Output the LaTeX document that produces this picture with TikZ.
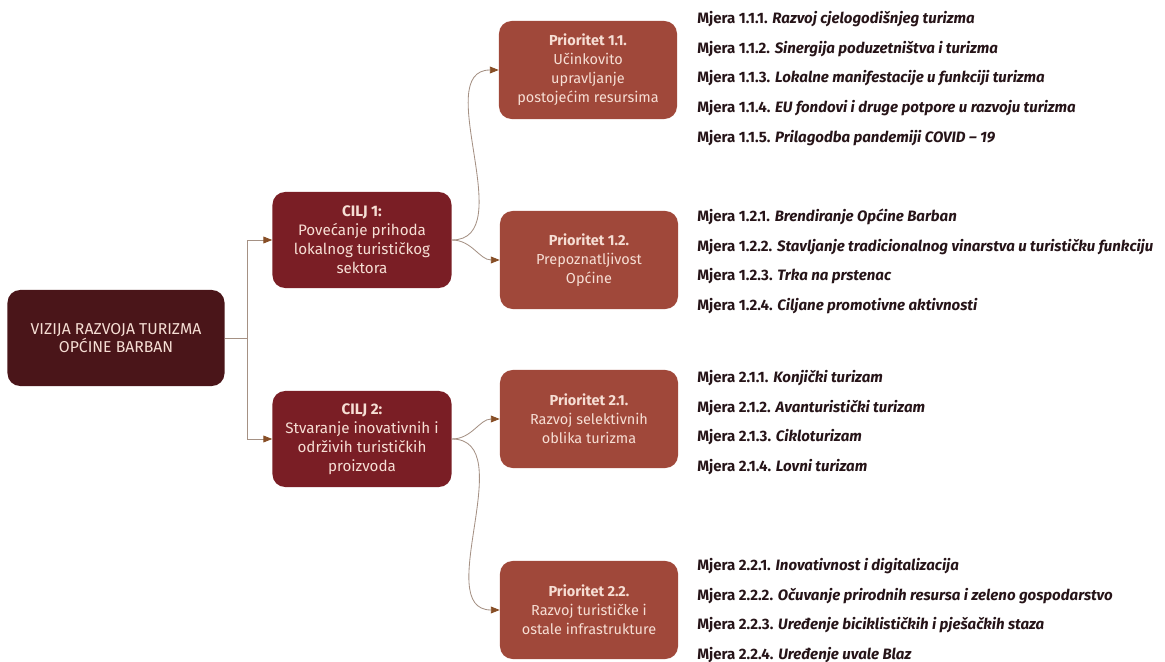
\documentclass[tikz,border=0pt]{standalone}
\usepackage{fontspec}
\setmainfont{Fira Sans}
\usetikzlibrary{arrows.meta,positioning}
\definecolor{vizfill}{RGB}{74,21,25}
\definecolor{ciljfill}{RGB}{122,30,37}
\definecolor{priofill}{RGB}{160,72,58}
\definecolor{boxtxt}{RGB}{246,222,212}
\definecolor{mjtxt}{RGB}{38,20,24}
\definecolor{linkcol}{RGB}{165,145,132}
\definecolor{tipcol}{RGB}{135,78,38}

\begin{document}
\begin{tikzpicture}[
    x=0.025cm,y=-0.025cm,
    node distance=0pt,
    vizija/.style={rectangle,fill=vizfill,rounded corners=9pt,minimum width=5.425cm,minimum height=2.4cm,text=boxtxt,font=\fontsize{11.2}{12.5}\selectfont,align=center},
    cilj/.style={rectangle,fill=ciljfill,rounded corners=9pt,minimum width=4.475cm,minimum height=2.4cm,text=boxtxt,font=\fontsize{10.8}{13.5}\selectfont,align=center},
    prio/.style={rectangle,fill=priofill,rounded corners=9pt,minimum width=4.45cm,minimum height=2.45cm,text=boxtxt,font=\fontsize{10.3}{13.5}\selectfont,align=center},
    mjera/.style={anchor=west,inner sep=0pt,minimum height=0.725cm,text height=1.8ex,text depth=0.5ex,font=\fontsize{10.7}{12}\selectfont\bfseries,text=mjtxt},
    link/.style={draw=linkcol,line width=0.6pt},
    arrow/.style={link,-{Triangle[length=2.2mm,width=1.7mm,color=tipcol]}},
]
\useasboundingbox (0,0) rectangle (1165,662);

\node[vizija] (viz) at (116,338) {VIZIJA RAZVOJA TURIZMA\\OPĆINE BARBAN};
\node[cilj]   (c1)  at (362,240) {\textbf{CILJ 1:}\\Povećanje prihoda\\lokalnog turističkog\\sektora};
\node[cilj]   (c2)  at (362,439) {\textbf{CILJ 2:}\\Stvaranje inovativnih i\\održivih turističkih\\proizvoda};
\node[prio]   (p11) at (588,70)  {\textbf{Prioritet 1.1.}\\Učinkovito\\upravljanje\\postojećim resursima};
\node[prio]   (p12) at (589,260) {\textbf{Prioritet 1.2.}\\Prepoznatljivost\\Općine};
\node[prio]   (p21) at (589,419) {\textbf{Prioritet 2.1.}\\Razvoj selektivnih\\oblika turizma};
\node[prio]   (p22) at (589,610) {\textbf{Prioritet 2.2.}\\Razvoj turističke i\\ostale infrastrukture};

% mjere, prioritet 1.1
\node[mjera] (m111) at (697,19) {Mjera 1.1.1. \textit{Razvoj cjelogodišnjeg turizma}};
\node[mjera,below=of m111.south west,anchor=north west] (m112) {Mjera 1.1.2. \textit{Sinergija poduzetništva i turizma}};
\node[mjera,below=of m112.south west,anchor=north west] (m113) {Mjera 1.1.3. \textit{Lokalne manifestacije u funkciji turizma}};
\node[mjera,below=of m113.south west,anchor=north west] (m114) {Mjera 1.1.4. \textit{EU fondovi i druge potpore u razvoju turizma}};
\node[mjera,below=of m114.south west,anchor=north west] (m115) {Mjera 1.1.5. \textit{Prilagodba pandemiji COVID -- 19}};
% prioritet 1.2
\node[mjera] (m121) at (697,217) {Mjera 1.2.1. \textit{Brendiranje Općine Barban}};
\node[mjera,below=of m121.south west,anchor=north west] (m122) {Mjera 1.2.2. \textit{Stavljanje tradicionalnog vinarstva u turističku funkciju}};
\node[mjera,below=of m122.south west,anchor=north west] (m123) {Mjera 1.2.3. \textit{Trka na prstenac}};
\node[mjera,below=of m123.south west,anchor=north west] (m124) {Mjera 1.2.4. \textit{Ciljane promotivne aktivnosti}};
% prioritet 2.1
\node[mjera] (m211) at (697,378) {Mjera 2.1.1. \textit{Konjički turizam}};
\node[mjera,below=of m211.south west,anchor=north west] (m212) {Mjera 2.1.2. \textit{Avanturistički turizam}};
\node[mjera,below=of m212.south west,anchor=north west] (m213) {Mjera 2.1.3. \textit{Cikloturizam}};
\node[mjera,below=of m213.south west,anchor=north west] (m214) {Mjera 2.1.4. \textit{Lovni turizam}};
% prioritet 2.2
\node[mjera] (m221) at (697,566) {Mjera 2.2.1. \textit{Inovativnost i digitalizacija}};
\node[mjera,below=of m221.south west,anchor=north west] (m222) {Mjera 2.2.2. \textit{Očuvanje prirodnih resursa i zeleno gospodarstvo}};
\node[mjera,below=of m222.south west,anchor=north west] (m223) {Mjera 2.2.3. \textit{Uređenje biciklističkih i pješačkih staza}};
\node[mjera,below=of m223.south west,anchor=north west] (m224) {Mjera 2.2.4. \textit{Uređenje uvale Blaz}};

\coordinate (split) at (247,338);
\draw[link]  (viz.east) -- (split);
\draw[arrow] (split) |- (c1.west);
\draw[arrow] (split) |- (c2.west);
\draw[arrow] (c1.east) to[out=0,in=180] (p11.west);
\draw[arrow] (c1.east) to[out=0,in=180] (p12.west);
\draw[arrow] (c2.east) to[out=0,in=180] (p21.west);
\draw[arrow] (c2.east) to[out=0,in=180] (p22.west);
\end{tikzpicture}
\end{document}
